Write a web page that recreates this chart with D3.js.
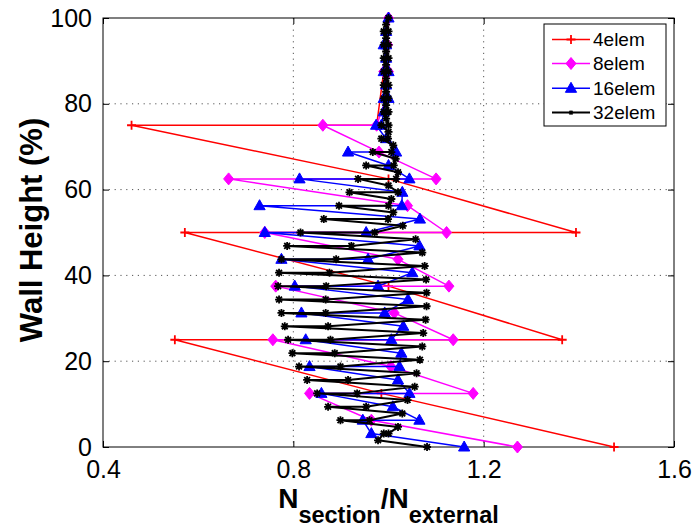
<!DOCTYPE html>
<html><head><meta charset="utf-8">
<script src="https://cdn.jsdelivr.net/npm/d3@7"></script>
<style>
html,body{margin:0;padding:0;background:#fff;}
svg{display:block;font-family:"Liberation Sans",Arial,Helvetica,sans-serif;}
</style></head>
<body>
<svg id="chart" width="694" height="529"></svg>
<script>
// ---- data ----
const seriesNames = ["4elem","8elem","16elem","32elem"];
const seriesColors = ["#ff0000","#ff00ff","#0000ff","#000000"];
const xTicks = [0.4,0.8,1.2,1.6];
const yTicks = [0,20,40,60,80,100];

const h4 = [0,12.5,25, 25,37.5,50, 50,62.5,75, 75,87.5,100];
const v4 = [1.474,0.985,0.551, 1.365,1.0,0.572, 1.394,1.0,0.46, 0.975,0.99,1.0];

const h8 = [0,6.25,12.5, 12.5,18.75,25, 25,31.25,37.5, 37.5,43.75,50,
            50,56.25,62.5, 62.5,68.75,75, 75,81.25,87.5, 87.5,93.75,100];
const v8 = [1.271,0.964,0.834, 1.178,1.005,0.757, 1.136,1.012,0.763, 1.127,1.02,0.74,
            1.122,1.04,0.664, 1.10,0.98,0.862, 0.975,0.995,0.99, 1.0,0.998,1.0];

const h16 = [0,3.125,6.25, 6.25,9.375,12.5, 12.5,15.625,18.75, 18.75,21.875,25,
             25,28.125,31.25, 31.25,34.375,37.5, 37.5,40.625,43.75, 43.75,46.875,50,
             50,53.125,56.25, 56.25,59.375,62.5, 62.5,65.625,68.75, 68.75,71.875,75,
             75,78.125,81.25, 81.25,84.375,87.5, 87.5,90.625,93.75, 93.75,96.875,100];
const v16 = [1.159,0.964,0.946, 1.065,1.009,0.859, 1.044,1.02,0.834, 1.023,1.027,0.826,
             1.006,1.031,0.817, 0.992,1.041,0.803, 0.978,1.05,0.775, 0.957,1.065,0.74,
             0.953,1.066,0.729, 1.028,1.029,0.813, 1.044,1.0,0.915, 1.016,0.995,0.974,
             0.985,0.99,0.99, 1.0,0.995,0.99, 1.0,0.995,0.99, 0.995,0.995,1.0];

const h32 = [0,1.5625,3.125, 3.125,4.6875,6.25, 6.25,7.8125,9.375, 9.375,10.9375,12.5,
             12.5,14.0625,15.625, 15.625,17.1875,18.75, 18.75,20.3125,21.875, 21.875,23.4375,25,
             25,26.5625,28.125, 28.125,29.6875,31.25, 31.25,32.8125,34.375, 34.375,35.9375,37.5,
             37.5,39.0625,40.625, 40.625,42.1875,43.75, 43.75,45.3125,46.875, 46.875,48.4375,50,
             50,51.5625,53.125, 53.125,54.6875,56.25, 56.25,57.8125,59.375, 59.375,60.9375,62.5,
             62.5,64.0625,65.625, 65.625,67.1875,68.75, 68.75,70.3125,71.875, 71.875,73.4375,75,
             75,76.5625,78.125, 78.125,79.6875,81.25, 81.25,82.8125,84.375, 84.375,85.9375,87.5,
             87.5,89.0625,90.625, 90.625,92.1875,93.75, 93.75,95.3125,96.875, 96.875,98.4375,100];
const v32 = [1.081,0.978,0.99, 1.0,1.02,0.899, 0.96,1.029,0.873, 0.953,1.04,0.85,
             0.934,1.055,0.829, 0.915,1.059,0.812, 0.899,1.066,0.798, 0.887,1.071,0.789,
             0.878,1.073,0.782, 0.873,1.078,0.775, 0.868,1.08,0.77, 0.868,1.08,0.768,
             0.869,1.079,0.77, 0.876,1.076,0.775, 0.89,1.071,0.787, 0.922,1.057,0.815,
             0.971,1.03,0.864, 0.999,1.01,0.896, 1.0,1.006,0.918, 1.02,1.0,0.936,
             1.016,1.02,0.953, 1.011,1.015,0.967, 1.006,1.01,0.985, 0.999,1.0,0.985,
             1.0,0.995,0.99, 1.0,0.995,0.99, 1.0,0.995,0.99, 1.0,0.995,0.99,
             1.0,0.995,0.99, 1.0,0.995,0.99, 1.0,0.995,0.99, 1.0,0.995,1.0];

const heights = [h4,h8,h16,h32];
const values = [v4,v8,v16,v32];

// ---- layout ----
const svg = d3.select("#chart");
const L = 103, R = 674, T = 18, B = 447;
const x = d3.scaleLinear().domain([0.4,1.6]).range([L,R]);
const y = d3.scaleLinear().domain([0,100]).range([B,T]);
const font = '"Liberation Sans",Arial,Helvetica,sans-serif';

// grid
const grid = svg.append("g");
grid.selectAll("line.gx").data(xTicks.slice(1,-1)).enter().append("line")
  .attr("x1",d=>x(d)).attr("x2",d=>x(d)).attr("y1",T).attr("y2",B)
  .attr("stroke","#555").attr("stroke-width",1).attr("stroke-dasharray","1.2,4.6");
grid.selectAll("line.gy").data(yTicks.slice(1,-1)).enter().append("line")
  .attr("y1",d=>y(d)).attr("y2",d=>y(d)).attr("x1",L).attr("x2",R)
  .attr("stroke","#555").attr("stroke-width",1).attr("stroke-dasharray","1.2,4.6");

// axes
function styleAxis(g){
  g.select(".domain").remove();
  g.selectAll(".tick line").attr("stroke","#000");
  g.selectAll("text").attr("font-size","25px").attr("font-family",font).attr("fill","#000");
}
svg.append("g").attr("transform",`translate(0,${B})`)
  .call(d3.axisBottom(x).tickValues(xTicks).tickFormat(d3.format(".1f")).tickSize(-6).tickPadding(13))
  .call(styleAxis);
svg.append("g").attr("transform",`translate(0,${T})`)
  .call(d3.axisTop(x).tickValues(xTicks).tickFormat("").tickSize(-6)).call(styleAxis);
svg.append("g").attr("transform",`translate(${L},0)`)
  .call(d3.axisLeft(y).tickValues(yTicks).tickFormat(d3.format("d")).tickSize(-6).tickPadding(11))
  .call(styleAxis);
svg.append("g").attr("transform",`translate(${R},0)`)
  .call(d3.axisRight(y).tickValues(yTicks).tickFormat("").tickSize(-6)).call(styleAxis);

svg.append("rect").attr("x",L).attr("y",T).attr("width",R-L).attr("height",B-T)
  .attr("fill","none").attr("stroke","#000").attr("stroke-width",1);

// markers
const markerPath = [
  () => "M-4.5,0H4.5M0,-4.5V4.5",
  () => "M0,-6L5,0L0,6L-5,0Z",
  () => "M0,-6L5.6,4L-5.6,4Z",
  () => "M-4,0H4M0,-4V4M-2.9,-2.9L2.9,2.9M-2.9,2.9L2.9,-2.9"
];
const markerFilled = [false,true,true,false];
const lineW = [1.5,1.5,1.5,2];

const line = d3.line().x(d=>x(d[1])).y(d=>y(d[0]));
seriesNames.forEach((name,i)=>{
  const pts = heights[i].map((h,k)=>[h,values[i][k]]);
  const g = svg.append("g");
  g.append("path").attr("d",line(pts)).attr("fill","none")
    .attr("stroke",seriesColors[i]).attr("stroke-width",lineW[i]).attr("stroke-linejoin","round");
  g.selectAll("path.m").data(pts).enter().append("path")
    .attr("transform",d=>`translate(${x(d[1])},${y(d[0])})`)
    .attr("d",markerPath[i]())
    .attr("fill",markerFilled[i]?seriesColors[i]:"none")
    .attr("stroke",seriesColors[i]).attr("stroke-width",markerFilled[i]?1:1.8);
});

// legend
const lg = svg.append("g");
lg.append("rect").attr("x",544).attr("y",24).attr("width",122).attr("height",102)
  .attr("fill","#fff").attr("stroke","#000").attr("stroke-width",1);
const legY = [39.5,63.5,88.3,112.6];
seriesNames.forEach((name,i)=>{
  lg.append("line").attr("x1",552).attr("x2",590).attr("y1",legY[i]).attr("y2",legY[i])
    .attr("stroke",seriesColors[i]).attr("stroke-width",lineW[i]);
  lg.append("path").attr("transform",`translate(571,${legY[i]}) scale(${i===3?0.6:1})`)
    .attr("d",markerPath[i]())
    .attr("fill",markerFilled[i]?seriesColors[i]:"none")
    .attr("stroke",seriesColors[i]).attr("stroke-width",markerFilled[i]?1:1.8);
  lg.append("text").attr("x",593).attr("y",legY[i]+6.7).text(name)
    .attr("font-size","19px").attr("font-family",font).attr("fill","#000");
});

// axis labels
const xl = svg.append("text").attr("x",(L+R)/2).attr("y",508).attr("text-anchor","middle")
  .attr("font-family",font).attr("font-weight","bold").attr("fill","#000");
xl.append("tspan").attr("font-size","28px").text("N");
xl.append("tspan").attr("font-size","23.5px").attr("dy",15).text("section");
xl.append("tspan").attr("font-size","28px").attr("dy",-15).text("/N");
xl.append("tspan").attr("font-size","23.5px").attr("dy",15).text("external");

svg.append("text").attr("transform","rotate(-90)").attr("x",-230).attr("y",41.5)
  .attr("text-anchor","middle").attr("font-family",font).attr("font-weight","bold")
  .attr("font-size","31px").attr("fill","#000").text("Wall Height (%)");
</script>
</body></html>
